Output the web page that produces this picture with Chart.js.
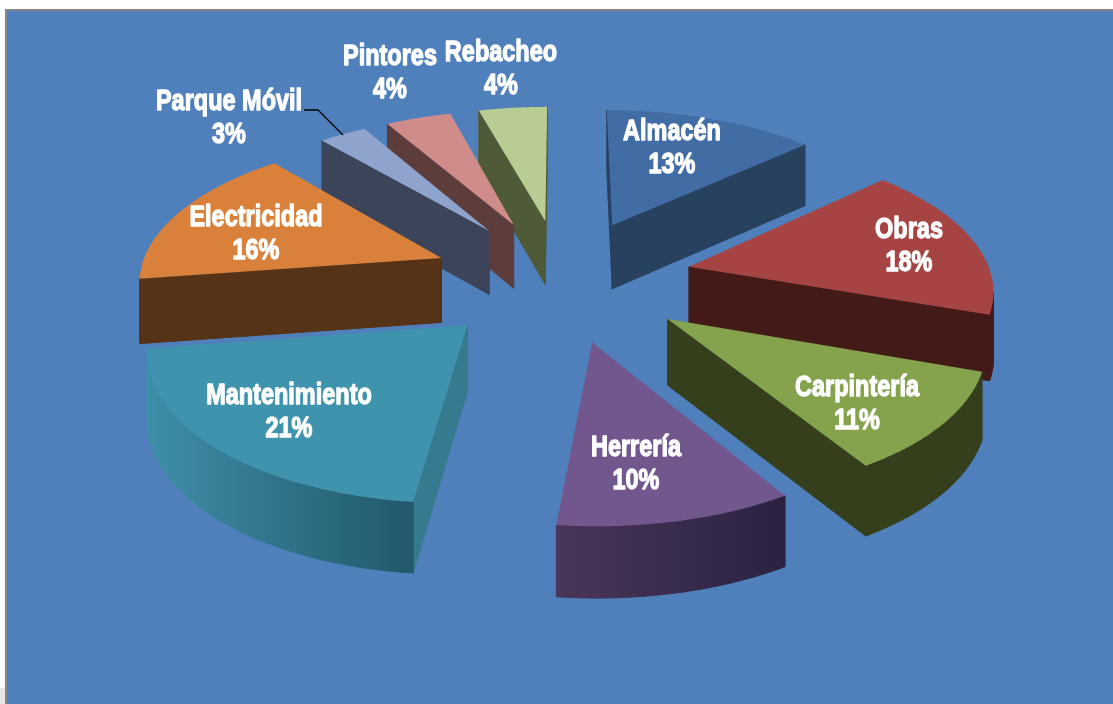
<!DOCTYPE html>
<html lang="es">
<head>
<meta charset="utf-8">
<style>html,body{margin:0;padding:0;background:#fff;overflow:hidden}canvas{display:block}</style>
<script src="https://cdn.jsdelivr.net/npm/chart.js@4/dist/chart.umd.min.js"></script>
</head>
<body>
<canvas id="c" width="1113" height="704"></canvas>
<script>
const categories = ['Almacén','Obras','Carpintería','Herrería','Mantenimiento','Electricidad','Parque Móvil','Pintores','Rebacheo'];
const values = [13,18,11,10,21,16,3,4,4];
const topColors = ['#416da4','#a54442','#85a24c','#71578e','#3f93ad','#d9803a','#8ea4cd','#cf8c8a','#b9cd92'];
const wallColors = ['#28415f','#431a18','#353f1c','#2a2240','#357a8e','#563316','#3b4459','#5d3d3c','#4f5a38'];
const outerLeft = ['#28415f','#431a18','#353f1c','#493659','#3e8fa8','#563316','#3b4459','#5d3d3c','#4f5a38'];
const outerRight = ['#28415f','#431a18','#353f1c','#2a2240','#22586a','#563316','#3b4459','#5d3d3c','#4f5a38'];
const labelCentres = [[672,132],[909,230],[857,388],[636,448],[289,396],[256,218],[229,102],[390,57],[501,53]];
// view distortion of the 3D camera at each slice boundary, in degrees
const boundaryDrift = [0,0.7,-2.3,-2.7,-0.9,-1.3,-1.2,-1.3,-1.0,0];

const EXPLODE = 131, DEPTH = 65, TILT = 0.47, PERSPECTIVE = 0.00042;
const RAD = Math.PI/180;

const pie3d = {
  id: 'pie3d',
  beforeDraw(chart) {
    const c = chart.ctx;
    c.save();
    c.fillStyle = '#fff'; c.fillRect(0,0,1113,704);
    c.fillStyle = '#e6e6e6'; c.fillRect(0,688,5,16);
    c.fillStyle = '#858585'; c.fillRect(5,9,1108,695);
    c.fillStyle = '#4f80bc'; c.fillRect(7,11,1106,693);
    c.restore();
  },
  beforeDatasetDraw() { return false; },
  afterDatasetsDraw(chart) {
    const c = chart.ctx;
    const arcs = chart.getDatasetMeta(0).data;
    const order = arcs.map((a,i)=>i).sort((p,q)=>
      Math.sin((arcs[p].startAngle+arcs[p].endAngle)/2) - Math.sin((arcs[q].startAngle+arcs[q].endAngle)/2));
    order.forEach(i => {
      const el = arcs[i];
      const a0 = el.startAngle + boundaryDrift[i]*RAD;
      const a1 = el.endAngle + boundaryDrift[i+1]*RAD;
      const mid = (a0+a1)/2;
      const ox = EXPLODE*Math.cos(mid), oy = EXPLODE*Math.sin(mid);
      const project = (r,a) => {
        const u = ox + r*Math.cos(a), v = oy + r*Math.sin(a);
        const k = 1/(1-PERSPECTIVE*v);
        return {x: el.x+u*k, y: el.y+TILT*v*k, d: DEPTH*Math.sqrt(k)};
      };
      const pts = [project(0,0)];
      const n = 48;
      for (let j=0;j<=n;j++) pts.push(project(el.outerRadius, a0+(a1-a0)*j/n));
      const rim = pts.slice(1);
      const minX = Math.min(...rim.map(p=>p.x)), maxX = Math.max(...rim.map(p=>p.x));
      const g = c.createLinearGradient(minX,0,maxX,0);
      g.addColorStop(0,outerLeft[i]); g.addColorStop(1,outerRight[i]);
      const wall = (P,Q,fill) => {
        if (Q.x >= P.x) return;
        c.beginPath();
        c.moveTo(P.x,P.y); c.lineTo(Q.x,Q.y); c.lineTo(Q.x,Q.y+Q.d); c.lineTo(P.x,P.y+P.d);
        c.closePath();
        c.fillStyle = fill; c.strokeStyle = fill; c.lineWidth = 1;
        c.fill(); c.stroke();
      };
      wall(pts[0],pts[1],wallColors[i]);
      wall(pts[pts.length-1],pts[0],wallColors[i]);
      for (let j=1;j<pts.length-1;j++) wall(pts[j],pts[j+1],g);
      c.beginPath();
      pts.forEach((p,j)=> j? c.lineTo(p.x,p.y) : c.moveTo(p.x,p.y));
      c.closePath();
      c.fillStyle = topColors[i];
      c.fill();
    });
    // leader line for Parque Móvil
    c.save();
    c.strokeStyle = '#000'; c.lineWidth = 1.3;
    c.beginPath(); c.moveTo(304,110); c.lineTo(318,110); c.lineTo(343,135); c.stroke();
    c.restore();
    // labels
    categories.forEach((name,i) => {
      const [x,y] = labelCentres[i];
      [[name,y],[values[i]+'%',y+33]].forEach(([t,yy]) => {
        c.save();
        c.translate(x,yy);
        c.scale(0.81,1);
        c.font = 'bold 29px "Liberation Sans",sans-serif';
        c.textAlign = 'center'; c.textBaseline = 'middle';
        c.fillStyle = '#fff'; c.strokeStyle = '#fff'; c.lineWidth = 1.3; c.lineJoin = 'round';
        c.strokeText(t,0,0); c.fillText(t,0,0);
        c.restore();
      });
    });
  }
};

new Chart(document.getElementById('c'), {
  type: 'pie',
  data: { labels: categories, datasets: [{ data: values, backgroundColor: topColors, borderWidth: 0 }] },
  options: {
    responsive: false, animation: false, radius: 303,
    layout: { padding: { left: 11, bottom: 146 } },
    events: [],
    plugins: { legend: { display: false }, tooltip: { enabled: false } }
  },
  plugins: [pie3d]
});
</script>
</body>
</html>
